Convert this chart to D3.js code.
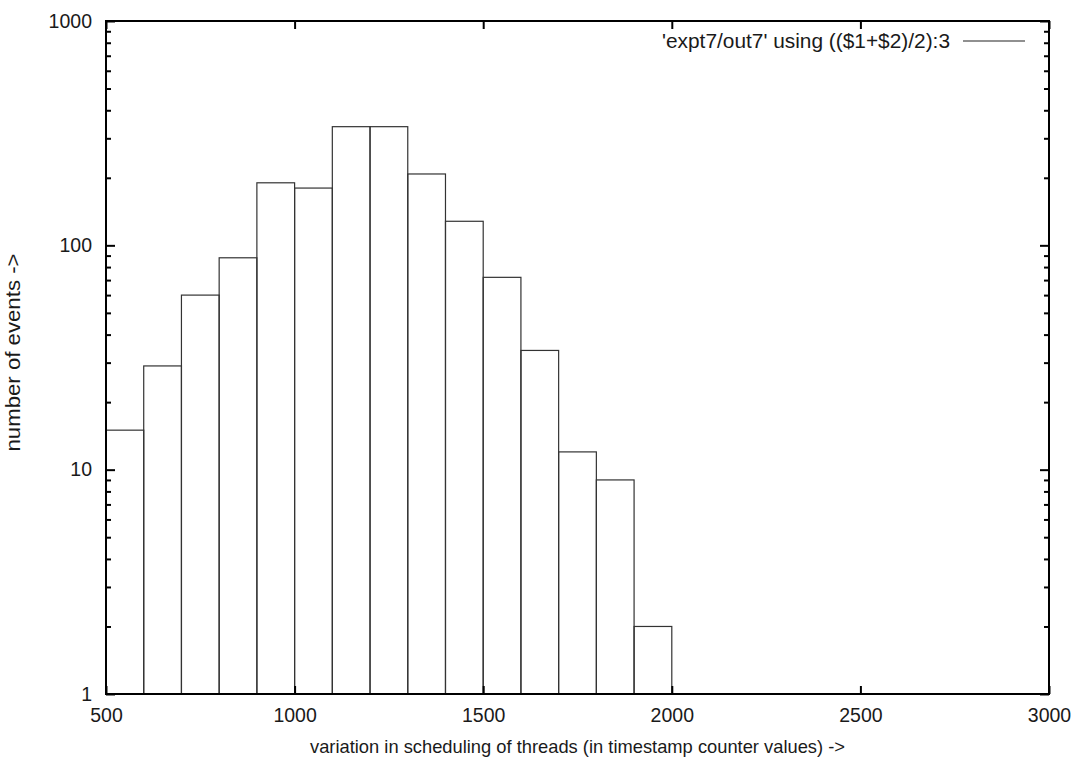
<!DOCTYPE html>
<html>
<head>
<meta charset="utf-8">
<script src="https://cdn.jsdelivr.net/npm/d3@7"></script>
<style>
	body { margin: 0; background: #fff; }
	svg text { font-family: "Liberation Sans", Arial, sans-serif; fill: #1a1a1a; }
	.axis path { display: none; }
	.axis line { stroke: #000; stroke-width: 2; }
</style>
</head>
<body>
<div class="histo"></div>
<script>
// bin starts (width 100) and counts
var binStarts = [500, 600, 700, 800, 900, 1000, 1100, 1200, 1300, 1400, 1500, 1600, 1700, 1800, 1900];
var counts = [15, 29, 60, 88, 190, 180, 338, 338, 208, 128, 72, 34, 12, 9, 2];
var binWidth = 100;

var xTicks = [500, 1000, 1500, 2000, 2500, 3000];
var yTicks = [1, 10, 100, 1000];
var yMinor = [2, 3, 4, 5, 6, 7, 8, 9, 20, 30, 40, 50, 60, 70, 80, 90, 200, 300, 400, 500, 600, 700, 800, 900];

var legendText = "'expt7/out7' using (($1+$2)/2):3";
var xTitle = "variation in scheduling of threads (in timestamp counter values) ->";
var yTitle = "number of events ->";

var margin = { top : 21, right : 29, bottom : 66, left : 106 },
	W = 1078, H = 760,
	width = W - margin.left - margin.right,
	height = H - margin.top - margin.bottom;

var svg = d3.select(".histo").append("svg")
	.attr("width", W)
	.attr("height", H)
	.append("g")
	.attr("transform", "translate(" + margin.left + "," + margin.top + ")");

var x = d3.scaleLinear().domain([500, 3000]).range([0, width]);
var y = d3.scaleLog().domain([1, 1000]).range([height, 0]);

// bars
svg.selectAll("rect.bin")
	.data(binStarts)
	.enter()
	.append("rect")
	.attr("class", "bin")
	.attr("x", function ( d ) { return x(d); })
	.attr("width", function ( d ) { return x(d + binWidth) - x(d); })
	.attr("y", function ( d, i ) { return y(counts[i]); })
	.attr("height", function ( d, i ) { return height - y(counts[i]); })
	.style("fill", "none")
	.style("stroke", "#333")
	.style("stroke-width", 1.2);

// y axis: major + minor ticks, mirrored on right
svg.append("g").attr("class", "axis")
	.call(d3.axisLeft(y).tickValues(yTicks).tickSizeInner(-9).tickSizeOuter(0).tickPadding(14)
		.tickFormat(d3.format("d")))
	.selectAll("text").style("font-size", "19.5px");
svg.append("g").attr("class", "axis")
	.call(d3.axisLeft(y).tickValues(yMinor).tickSize(-5).tickFormat(""));
svg.append("g").attr("class", "axis").attr("transform", "translate(" + width + ",0)")
	.call(d3.axisRight(y).tickValues(yTicks).tickSize(-9).tickFormat(""));
svg.append("g").attr("class", "axis").attr("transform", "translate(" + width + ",0)")
	.call(d3.axisRight(y).tickValues(yMinor).tickSize(-5).tickFormat(""));

// x axis: bottom with labels, top mirror
svg.append("g").attr("class", "axis").attr("transform", "translate(0," + height + ")")
	.call(d3.axisBottom(x).tickValues(xTicks).tickSizeInner(-8).tickSizeOuter(0).tickPadding(14)
		.tickFormat(d3.format("d")))
	.selectAll("text").style("font-size", "19.5px");
svg.append("g").attr("class", "axis")
	.call(d3.axisTop(x).tickValues(xTicks).tickSize(-8).tickFormat(""));

// frame
svg.append("rect")
	.attr("width", width)
	.attr("height", height)
	.style("fill", "none")
	.style("stroke", "#000")
	.style("stroke-width", 2);

// legend
var legY = 20;
svg.append("text")
	.attr("x", width - 99)
	.attr("y", legY)
	.attr("dy", "0.35em")
	.attr("text-anchor", "end")
	.attr("textLength", 288)
	.attr("lengthAdjust", "spacingAndGlyphs")
	.style("font-size", "20px")
	.text(legendText);
svg.append("line")
	.attr("x1", width - 86).attr("x2", width - 24)
	.attr("y1", legY).attr("y2", legY)
	.style("stroke", "#222")
	.style("stroke-width", 1.2);

// axis titles
svg.append("text")
	.attr("text-anchor", "middle")
	.attr("transform", "translate(" + (width / 2) + "," + (height + 59) + ")")
	.attr("textLength", 535)
	.attr("lengthAdjust", "spacingAndGlyphs")
	.style("font-size", "18.5px")
	.text(xTitle);

svg.append("text")
	.attr("text-anchor", "middle")
	.attr("transform", "translate(" + (-86) + "," + (height / 2 - 5) + ")rotate(-90)")
	.attr("textLength", 198)
	.attr("lengthAdjust", "spacingAndGlyphs")
	.style("font-size", "20px")
	.text(yTitle);
</script>
</body>
</html>
